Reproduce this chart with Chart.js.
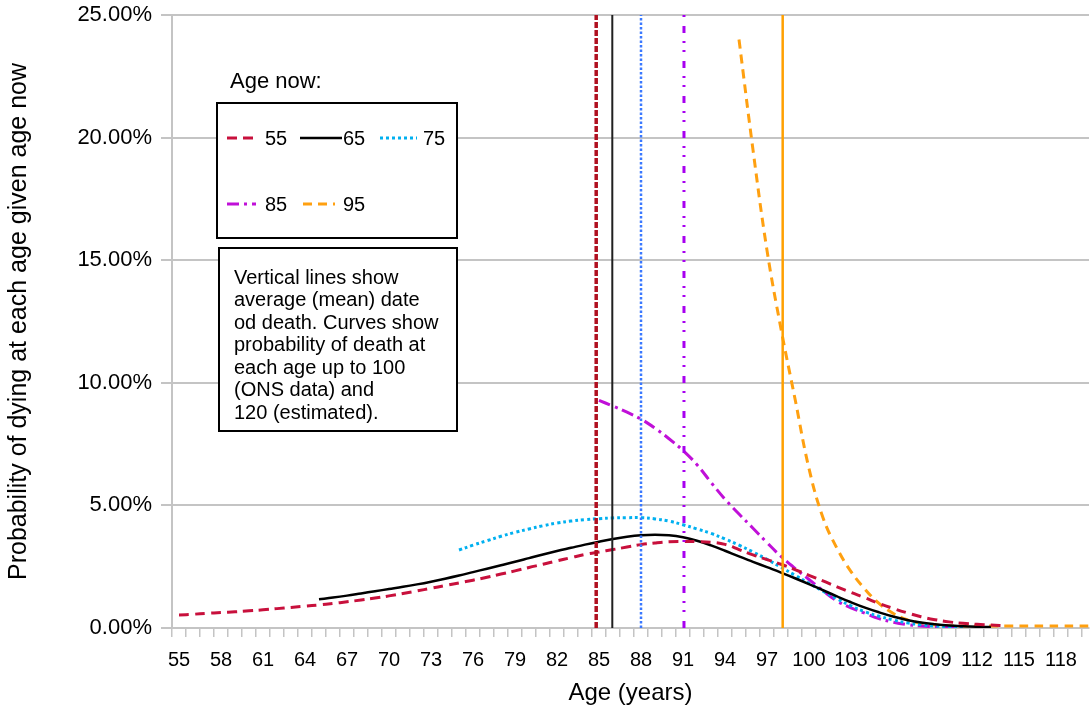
<!DOCTYPE html>
<html>
<head>
<meta charset="utf-8">
<script src="https://cdn.jsdelivr.net/npm/chart.js@4.4.1/dist/chart.umd.min.js"></script>
<style>
html, body { margin: 0; padding: 0; background: #fff; }
</style>
</head>
<body>
<canvas id="chart" width="1090" height="713"></canvas>
<script>
// ages on the x axis (one category per year)
let ages = [55, 56, 57, 58, 59, 60, 61, 62, 63, 64, 65, 66, 67, 68, 69, 70, 71, 72, 73, 74,
    75, 76, 77, 78, 79, 80, 81, 82, 83, 84, 85, 86, 87, 88, 89, 90, 91, 92, 93, 94,
    95, 96, 97, 98, 99, 100, 101, 102, 103, 104, 105, 106, 107, 108, 109, 110, 111, 112, 113, 114,
    115, 116, 117, 118, 119, 120];
let tickLabels = [55, 58, 61, 64, 67, 70, 73, 76, 79, 82, 85, 88, 91, 94, 97, 100, 103, 106, 109, 112, 115, 118];
let yTicks = [0, 5, 10, 15, 20, 25];

// probability of dying at each age (%), by age now
let now55 = [0.53, 0.56, 0.60, 0.63, 0.66, 0.70, 0.74, 0.79, 0.84, 0.89, 0.94, 1.00, 1.07, 1.14, 1.22, 1.31, 1.41, 1.51, 1.62, 1.73,
    1.84, 1.95, 2.07, 2.20, 2.33, 2.47, 2.60, 2.74, 2.87, 3.00, 3.10, 3.20, 3.30, 3.40, 3.47, 3.52, 3.53, 3.52, 3.50, 3.41,
    3.20, 2.98, 2.79, 2.60, 2.38, 2.15, 1.92, 1.68, 1.45, 1.23, 1.00, 0.80, 0.62, 0.46, 0.34, 0.25, 0.19, 0.15, 0.12, 0.10,
    null, null, null, null, null, null];
let now65 = [null, null, null, null, null, null, null, null, null, null, 1.17, 1.24, 1.32, 1.41, 1.50, 1.59, 1.68, 1.78, 1.89, 2.01,
    2.14, 2.28, 2.42, 2.56, 2.70, 2.85, 3.00, 3.14, 3.27, 3.40, 3.52, 3.63, 3.72, 3.78, 3.80, 3.78, 3.70, 3.56, 3.37, 3.15,
    2.92, 2.70, 2.48, 2.26, 2.03, 1.79, 1.54, 1.29, 1.05, 0.83, 0.64, 0.47, 0.33, 0.22, 0.15, 0.10, 0.07, 0.05, 0.04, null,
    null, null, null, null, null, null];
let now75 = [null, null, null, null, null, null, null, null, null, null, null, null, null, null, null, null, null, null, null, null,
    3.18, 3.38, 3.56, 3.74, 3.90, 4.04, 4.17, 4.28, 4.36, 4.42, 4.46, 4.49, 4.50, 4.50, 4.45, 4.36, 4.21, 4.04, 3.86, 3.63,
    3.38, 3.10, 2.80, 2.48, 2.15, 1.82, 1.50, 1.19, 0.90, 0.66, 0.48, 0.33, 0.21, 0.13, 0.08, 0.05, 0.03, null, null, null,
    null, null, null, null, null, null];
let now85 = [null, null, null, null, null, null, null, null, null, null, null, null, null, null, null, null, null, null, null, null,
    null, null, null, null, null, null, null, null, null, null, 9.28, 9.05, 8.80, 8.52, 8.15, 7.72, 7.24, 6.66, 5.94, 5.25,
    4.65, 4.07, 3.48, 2.92, 2.43, 1.98, 1.52, 1.10, 0.82, 0.60, 0.38, 0.24, 0.14, 0.08, 0.05, 0.03, 0.02, null, null, null,
    null, null, null, null, null, null];
let now95 = [null, null, null, null, null, null, null, null, null, null, null, null, null, null, null, null, null, null, null, null,
    null, null, null, null, null, null, null, null, null, null, null, null, null, null, null, null, null, null, null, null,
    24.0, 19.5, 15.4, 12.2, 9.35, 6.5, 4.5, 3.25, 2.3, 1.58, 1.0, 0.6, 0.34, 0.19, 0.12, 0.09, 0.08, 0.08, 0.08, 0.08,
    0.08, 0.08, 0.08, 0.08, 0.08, 0.08];

let seriesNames = ['55', '65', '75', '85', '95'];
let meanAges = [84.8, 85.95, 88.0, 91.07, 98.12];

let noteLines = ['Vertical lines show', 'average (mean) date', 'od death. Curves show',
    'probability of death at', 'each age up to 100', '(ONS data) and', '120 (estimated).'];

const FONT = "'Liberation Sans', Arial, sans-serif";
Chart.defaults.font.family = FONT;
Chart.defaults.color = '#000';

let curveStyles = [
    { color: '#c8103c', width: 3, dash: [10, 6] },
    { color: '#000000', width: 2.5, dash: [] },
    { color: '#00b0f0', width: 3, dash: [3, 3] },
    { color: '#c010d8', width: 3, dash: [12, 5, 3, 5] },
    { color: '#ffa010', width: 3, dash: [9, 6] }
];
let meanStyles = [
    { color: '#b01020', width: 3.5, dash: [6, 2] },
    { color: '#202020', width: 2, dash: [] },
    { color: '#3a78ff', width: 2.5, dash: [2.5, 2] },
    { color: '#a800f0', width: 3, dash: [7, 9, 2, 7, 2, 8] },
    { color: '#ffa000', width: 2.5, dash: [] }
];

let allSeries = [now55, now65, now75, now85, now95];
let datasets = [];

allSeries.forEach((series, i) => {
    datasets.push({
        label: seriesNames[i],
        data: ages.map((a, j) => ({ x: a, y: series[j] })),
        borderColor: curveStyles[i].color,
        borderWidth: curveStyles[i].width,
        borderDash: curveStyles[i].dash,
        tension: 0.4,
        pointRadius: 0,
        fill: false,
        order: 1
    });
});

meanAges.forEach((m, i) => {
    datasets.push({
        label: 'mean ' + seriesNames[i],
        data: [{ x: m, y: yTicks[0] }, { x: m, y: yTicks[yTicks.length - 1] }],
        borderColor: meanStyles[i].color,
        borderWidth: meanStyles[i].width,
        borderDash: meanStyles[i].dash,
        pointRadius: 0,
        fill: false,
        order: 0
    });
});

function strokeSample(ctx, style, x1, x2, y) {
    ctx.save();
    ctx.strokeStyle = style.color;
    ctx.lineWidth = style.width;
    ctx.setLineDash(style.dash);
    ctx.beginPath();
    ctx.moveTo(x1, y);
    ctx.lineTo(x2, y);
    ctx.stroke();
    ctx.restore();
}

// Excel style legend box plus the note box
const boxesPlugin = {
    id: 'boxes',
    afterDraw(chart) {
        let ctx = chart.ctx;
        ctx.save();
        ctx.fillStyle = '#fff';
        ctx.strokeStyle = '#000';
        ctx.lineWidth = 2;
        ctx.fillRect(217, 103, 240, 135);
        ctx.strokeRect(217, 103, 240, 135);
        ctx.fillRect(219, 248, 238, 183);
        ctx.strokeRect(219, 248, 238, 183);

        ctx.fillStyle = '#000';
        ctx.textBaseline = 'middle';
        ctx.textAlign = 'left';
        ctx.font = '22px ' + FONT;
        ctx.fillText('Age now:', 230, 82);

        let items = [
            { x1: 227, x2: 259, tx: 265, y: 138 },
            { x1: 300, x2: 342, tx: 343, y: 138 },
            { x1: 380, x2: 417, tx: 423, y: 138 },
            { x1: 227, x2: 256, tx: 265, y: 204 },
            { x1: 303, x2: 335, tx: 343, y: 204 }
        ];
        ctx.font = '20px ' + FONT;
        items.forEach((it, i) => {
            strokeSample(ctx, curveStyles[i], it.x1, it.x2, it.y);
            ctx.fillText(seriesNames[i], it.tx, it.y + 1);
        });

        noteLines.forEach((line, i) => {
            ctx.fillText(line, 234, 278 + i * 22.5);
        });
        ctx.restore();
    }
};

new Chart(document.getElementById('chart'), {
    type: 'line',
    data: { datasets: datasets },
    options: {
        responsive: false,
        animation: false,
        events: [],
        layout: { padding: { top: 15, right: 1, left: 0, bottom: 0 } },
        plugins: {
            legend: { display: false },
            tooltip: { enabled: false }
        },
        scales: {
            x: {
                type: 'linear',
                min: ages[0] - 0.5,
                max: ages[ages.length - 1],
                afterFit: (scale) => {
                    scale.height = 85;
                    scale.paddingLeft = 0;
                    scale.paddingRight = 0;
                },
                ticks: {
                    stepSize: 0.5,
                    autoSkip: false,
                    maxRotation: 0,
                    minRotation: 0,
                    padding: 11,
                    font: { size: 20 },
                    color: '#000',
                    callback: (v) => tickLabels.includes(v) ? String(v) : ''
                },
                grid: {
                    drawOnChartArea: false,
                    tickLength: 9,
                    lineWidth: 1.5,
                    color: (c) => (c.tick && Number.isInteger(c.tick.value)) ? 'rgba(0,0,0,0)' : '#c4c4c4'
                },
                border: { color: '#c4c4c4', width: 2 },
                title: {
                    display: true,
                    text: 'Age (years)',
                    font: { size: 24 },
                    color: '#000',
                    padding: { top: 0, bottom: 5 }
                }
            },
            y: {
                min: yTicks[0],
                max: yTicks[yTicks.length - 1],
                afterFit: (scale) => {
                    scale.width = 172;
                    scale.paddingTop = 0;
                    scale.paddingBottom = 0;
                },
                afterBuildTicks: (scale) => { scale.ticks = yTicks.map(v => ({ value: v })); },
                ticks: {
                    padding: 9,
                    font: { size: 22 },
                    color: '#000',
                    callback: (v) => v.toFixed(2) + '%'
                },
                grid: {
                    color: '#c4c4c4',
                    lineWidth: 2,
                    tickLength: 11
                },
                border: { color: '#c4c4c4', width: 2 },
                title: {
                    display: true,
                    text: 'Probability of dying at each age given age now',
                    font: { size: 25 },
                    color: '#000',
                    padding: { top: 4, bottom: 0 }
                }
            }
        }
    },
    plugins: [boxesPlugin]
});
</script>
</body>
</html>
